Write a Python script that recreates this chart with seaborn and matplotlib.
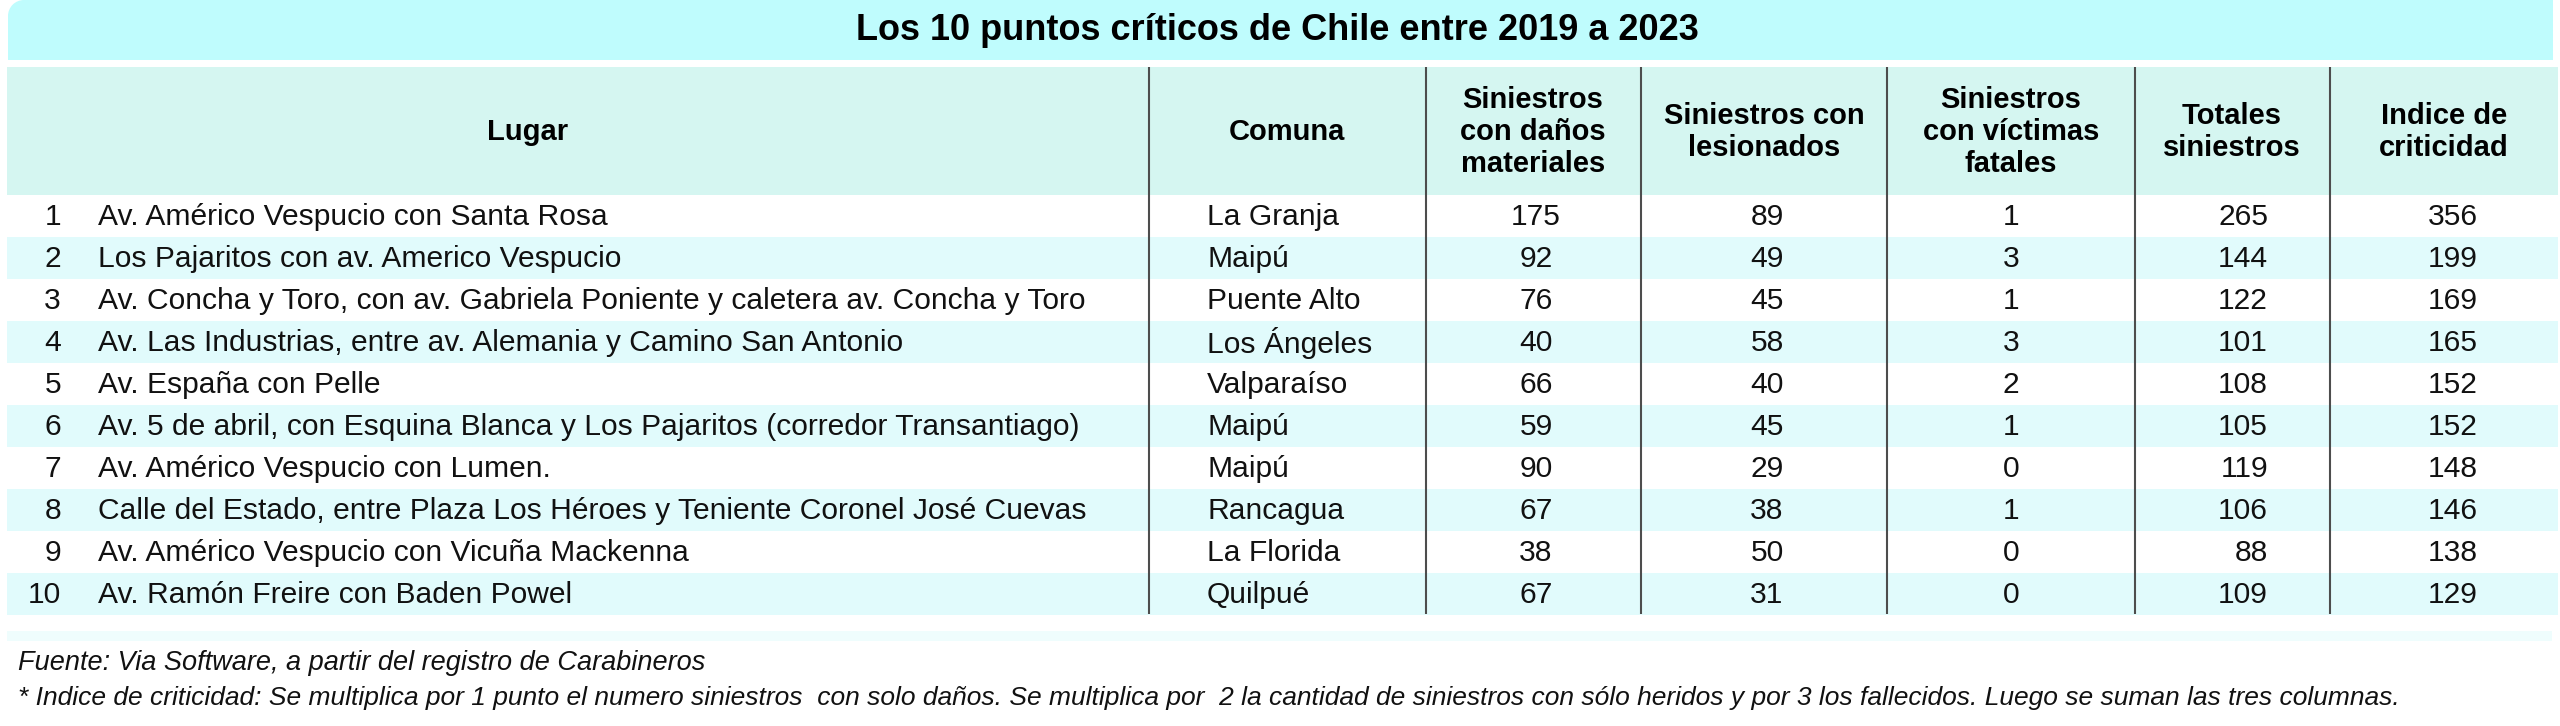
import matplotlib
matplotlib.use('Agg')
import matplotlib.pyplot as plt
import matplotlib.patches as mpatches
import seaborn as sns

# table data
titulo = 'Los 10 puntos críticos de Chile entre 2019 a 2023'
encabezados = ['Lugar', 'Comuna', 'Siniestros\ncon daños\nmateriales', 'Siniestros con\nlesionados',
               'Siniestros\ncon víctimas\nfatales', 'Totales\nsiniestros', 'Indice de\ncriticidad']
ranking = [1, 2, 3, 4, 5, 6, 7, 8, 9, 10]
lugares = [
    'Av. Américo Vespucio con Santa Rosa',
    'Los Pajaritos con av. Americo Vespucio',
    'Av. Concha y Toro, con av. Gabriela Poniente y caletera av. Concha y Toro',
    'Av. Las Industrias, entre av. Alemania y Camino San Antonio',
    'Av. España con Pelle',
    'Av. 5 de abril, con Esquina Blanca y Los Pajaritos (corredor Transantiago)',
    'Av. Américo Vespucio con Lumen.',
    'Calle del Estado, entre Plaza Los Héroes y Teniente Coronel José Cuevas',
    'Av. Américo Vespucio con Vicuña Mackenna',
    'Av. Ramón Freire con Baden Powel',
]
comunas = ['La Granja', 'Maipú', 'Puente Alto', 'Los Ángeles', 'Valparaíso',
           'Maipú', 'Maipú', 'Rancagua', 'La Florida', 'Quilpué']
danos_materiales = [175, 92, 76, 40, 66, 59, 90, 67, 38, 67]
lesionados = [89, 49, 45, 58, 40, 45, 29, 38, 50, 31]
victimas_fatales = [1, 3, 1, 3, 2, 1, 0, 1, 0, 0]
totales = [265, 144, 122, 101, 108, 105, 119, 106, 88, 109]
indice = [356, 199, 169, 165, 152, 152, 148, 146, 138, 129]
fuente = 'Fuente: Via Software, a partir del registro de Carabineros'
nota = ('* Indice de criticidad: Se multiplica por 1 punto el numero siniestros  con solo daños. '
        'Se multiplica por  2 la cantidad de siniestros con sólo heridos y por 3 los fallecidos. '
        'Luego se suman las tres columnas.')

sns.set_theme(style='white')
plt.rcParams['font.family'] = ['Liberation Sans', 'DejaVu Sans']

W, H = 2560, 726
fig = plt.figure(figsize=(25.6, 7.26), dpi=100)
fig.patch.set_facecolor('white')
ax = fig.add_axes([0, 0, 1, 1])
ax.set_xlim(0, W)
ax.set_ylim(H, 0)
ax.axis('off')

# colours
c_title = '#bffcfd'
c_head = '#d5f6f1'
c_stripe = '#e1fbfc'
c_line = '#4d4d4d'

# title band with rounded top-left corner
r = 16
ax.add_patch(mpatches.Rectangle((8 + r, 0), 2553 - 8 - r, 60, color=c_title, lw=0))
ax.add_patch(mpatches.Rectangle((8, r), r, 60 - r, color=c_title, lw=0))
ax.add_patch(mpatches.Circle((8 + r, r), r, color=c_title, lw=0))
ax.text(1277, 31, titulo, ha='center', va='center', fontsize=26, fontweight='bold', color='black')

# header band
ax.add_patch(mpatches.Rectangle((7, 67), 2558 - 7, 195 - 67, color=c_head, lw=0))
col_x = [528, 1287, 1533, 1764, 2011, 2232, 2444]
for x, txt in zip(col_x, encabezados):
    ax.text(x, 132, txt, ha='center', va='center', fontsize=21, fontweight='bold',
            linespacing=1.18, color='black')

# rows
row_top, row_h = 195, 42
fs = 21.6
for i in range(len(ranking)):
    y0 = row_top + i * row_h
    if i % 2 == 1:
        ax.add_patch(mpatches.Rectangle((7, y0), 2558 - 7, row_h, color=c_stripe, lw=0))
    yc = y0 + row_h / 2 + 1
    ax.text(61, yc, str(ranking[i]), ha='right', va='center', fontsize=fs, color='#111111')
    ax.text(98, yc, lugares[i], ha='left', va='center', fontsize=fs, color='#111111')
    ax.text(1207, yc, comunas[i], ha='left', va='center', fontsize=fs, color='#111111')
    ax.text(1536, yc, str(danos_materiales[i]), ha='center', va='center', fontsize=fs, color='#111111')
    ax.text(1767, yc, str(lesionados[i]), ha='center', va='center', fontsize=fs, color='#111111')
    ax.text(2011, yc, str(victimas_fatales[i]), ha='center', va='center', fontsize=fs, color='#111111')
    ax.text(2268, yc, str(totales[i]), ha='right', va='center', fontsize=fs, color='#111111')
    ax.text(2453, yc, str(indice[i]), ha='center', va='center', fontsize=fs, color='#111111')

# faint strip below the table
ax.add_patch(mpatches.Rectangle((7, 631), 2552 - 7, 10, color='#effdfd', lw=0))

# column separators
for x in [1149, 1426, 1641, 1887, 2135, 2330]:
    ax.plot([x, x], [67, 614], color=c_line, lw=1.5, solid_capstyle='butt')

# footer
ax.text(18, 663, fuente, ha='left', va='center', fontsize=19.5, style='italic', color='#111111')
ax.text(18, 698, nota, ha='left', va='center', fontsize=19, style='italic', color='#111111')

fig.savefig('out.png', dpi=100, facecolor='white')
